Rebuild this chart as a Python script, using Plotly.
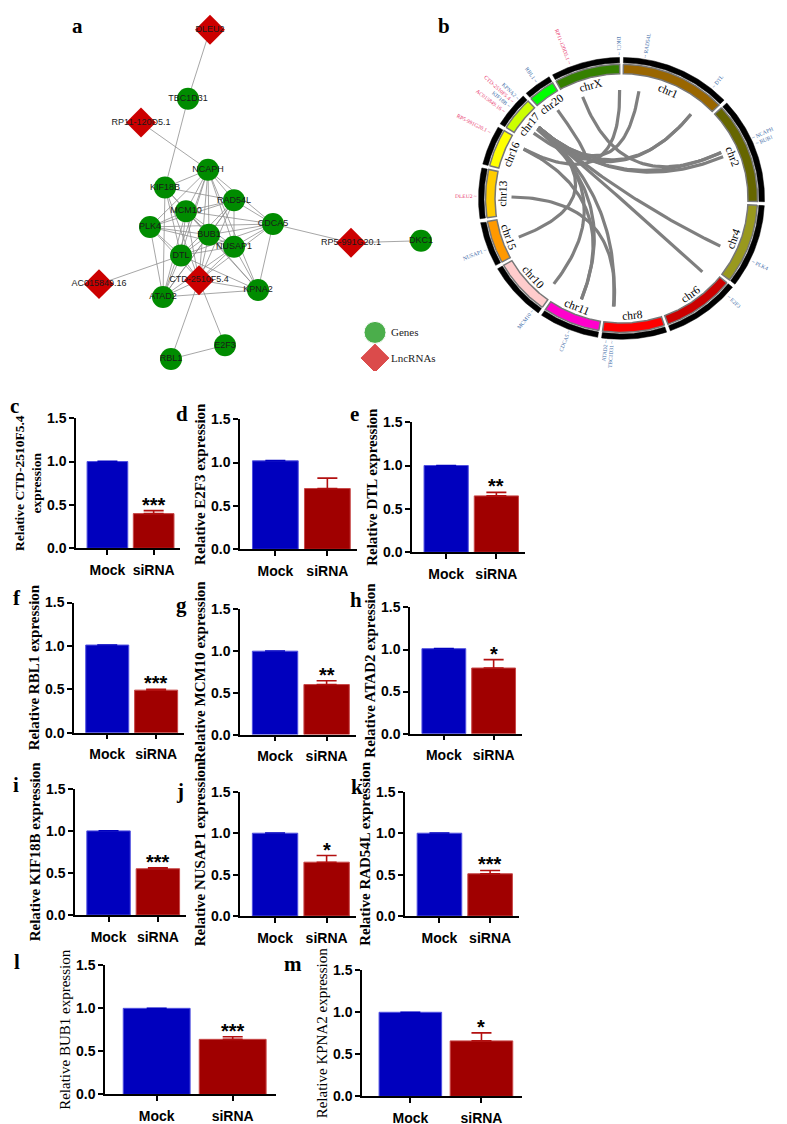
import numpy as np
import plotly.graph_objects as go

W, H = 787, 1124

# ---------------- panel a: co-expression network ----------------
net_nodes = ["DLEU2", "TBC1D31", "RP11-120D5.1", "NCAPH", "KIF18B", "RAD54L", "MCM10",
             "PLK4", "CDCA5", "BUB1", "NUSAP1", "DTL", "RP5-991G20.1", "DKC1",
             "AC015849.16", "CTD-2510F5.4", "ATAD2", "KPNA2", "E2F3", "RBL1"]
net_type = ["lnc", "gene", "lnc", "gene", "gene", "gene", "gene",
            "gene", "gene", "gene", "gene", "gene", "lnc", "gene",
            "lnc", "lnc", "gene", "gene", "gene", "gene"]
net_x = [202, 180, 133, 200, 157, 226, 178, 142, 265, 201, 226, 173, 343, 413,
         91, 191, 155, 250, 217, 163]
net_y = [14, 84, 108, 156, 174, 187, 198, 214, 211, 222, 234, 243, 230, 228,
         272, 268, 285, 278, 334, 348]
net_edges = [
    ("DLEU2", "TBC1D31"), ("TBC1D31", "KIF18B"), ("RP11-120D5.1", "NCAPH"),
    ("CDCA5", "RP5-991G20.1"), ("RP5-991G20.1", "DKC1"), ("AC015849.16", "DTL"),
    ("CTD-2510F5.4", "E2F3"), ("CTD-2510F5.4", "RBL1"), ("E2F3", "RBL1"),
    ("NCAPH", "KIF18B"), ("NCAPH", "RAD54L"), ("NCAPH", "MCM10"), ("NCAPH", "PLK4"),
    ("NCAPH", "CDCA5"), ("NCAPH", "BUB1"), ("NCAPH", "NUSAP1"), ("NCAPH", "DTL"),
    ("NCAPH", "ATAD2"), ("NCAPH", "KPNA2"), ("NCAPH", "CTD-2510F5.4"),
    ("KIF18B", "MCM10"), ("KIF18B", "BUB1"), ("KIF18B", "DTL"), ("KIF18B", "ATAD2"),
    ("KIF18B", "CTD-2510F5.4"), ("KIF18B", "RAD54L"),
    ("RAD54L", "MCM10"), ("RAD54L", "PLK4"), ("RAD54L", "BUB1"), ("RAD54L", "NUSAP1"),
    ("RAD54L", "DTL"), ("RAD54L", "CDCA5"), ("RAD54L", "ATAD2"), ("RAD54L", "CTD-2510F5.4"),
    ("MCM10", "PLK4"), ("MCM10", "CDCA5"), ("MCM10", "BUB1"), ("MCM10", "NUSAP1"),
    ("MCM10", "DTL"), ("MCM10", "ATAD2"), ("MCM10", "KPNA2"), ("MCM10", "CTD-2510F5.4"),
    ("PLK4", "BUB1"), ("PLK4", "NUSAP1"), ("PLK4", "DTL"), ("PLK4", "ATAD2"),
    ("PLK4", "CTD-2510F5.4"), ("PLK4", "CDCA5"),
    ("CDCA5", "BUB1"), ("CDCA5", "NUSAP1"), ("CDCA5", "DTL"), ("CDCA5", "KPNA2"),
    ("CDCA5", "CTD-2510F5.4"),
    ("BUB1", "NUSAP1"), ("BUB1", "DTL"), ("BUB1", "ATAD2"), ("BUB1", "KPNA2"),
    ("BUB1", "CTD-2510F5.4"),
    ("NUSAP1", "DTL"), ("NUSAP1", "ATAD2"), ("NUSAP1", "KPNA2"), ("NUSAP1", "CTD-2510F5.4"),
    ("DTL", "ATAD2"), ("DTL", "KPNA2"), ("DTL", "CTD-2510F5.4"),
    ("ATAD2", "CTD-2510F5.4"), ("ATAD2", "KPNA2"), ("KPNA2", "CTD-2510F5.4"),
]

# ---------------- panel b: circos ----------------
chroms = ["chr1", "chr2", "chr4", "chr6", "chr8", "chr11", "chr10", "chr15",
          "chr13", "chr16", "chr17", "chr20", "chrX"]
chrom_len = [249, 243, 191, 171, 146, 135, 135, 102, 115, 90, 81, 63, 155]
chrom_color = ["#996600", "#666600", "#99991E", "#CC0000", "#FF0000", "#FF00CC",
               "#FFCCCC", "#FF9900", "#FFCC00", "#FFFF00", "#CCFF00", "#00FF00", "#358000"]
loci = ["DKC1", "RAD54L", "DTL", "NCAPH", "BUB1", "PLK4", "E2F3", "TBC1D31", "ATAD2",
        "CDCA5", "MCM10", "NUSAP1", "DLEU2", "RP5-991G20.1", "AC015849.16", "KIF18B",
        "CTD-2510F5.4", "KPNA2", "RBL1", "RP11-120D5.1"]
locus_chr = ["chrX", "chr1", "chr1", "chr2", "chr2", "chr4", "chr6", "chr8", "chr8",
             "chr11", "chr10", "chr15", "chr13", "chr16", "chr17", "chr17",
             "chr17", "chr17", "chr20", "chrX"]
locus_mb = [154, 46, 212, 97, 111, 128, 20, 123, 125, 65, 13, 41, 50, 72, 28, 43, 50, 66, 35, 45]
locus_lnc = [False, False, False, False, False, False, False, False, False, False, False,
             False, True, True, True, False, True, False, False, True]
circos_links = [
    ("CTD-2510F5.4", "RAD54L"), ("CTD-2510F5.4", "DTL"), ("CTD-2510F5.4", "NCAPH"),
    ("CTD-2510F5.4", "BUB1"), ("CTD-2510F5.4", "PLK4"), ("CTD-2510F5.4", "E2F3"),
    ("CTD-2510F5.4", "ATAD2"), ("CTD-2510F5.4", "MCM10"), ("CTD-2510F5.4", "NUSAP1"),
    ("CTD-2510F5.4", "RBL1"), ("AC015849.16", "DTL"), ("RP5-991G20.1", "CDCA5"),
    ("RP5-991G20.1", "DKC1"), ("DLEU2", "TBC1D31"), ("RP11-120D5.1", "NCAPH"),
    ("KIF18B", "CDCA5"),
]

# ---------------- panels c-m: qPCR bars ----------------
panel_letters = ["c", "d", "e", "f", "g", "h", "i", "j", "k", "l", "m"]
target_genes = ["CTD-2510F5.4", "E2F3", "DTL", "RBL1", "MCM10", "ATAD2",
                "KIF18B", "NUSAP1", "RAD54L", "BUB1", "KPNA2"]
groups = ["Mock", "siRNA"]
mock_mean = [1.00, 1.02, 1.00, 1.01, 1.00, 1.01, 1.00, 1.00, 1.00, 1.00, 1.00]
mock_sem = [0.004, 0.004, 0.003, 0.003, 0.003, 0.003, 0.003, 0.003, 0.003, 0.003, 0.003]
sirna_mean = [0.40, 0.70, 0.65, 0.49, 0.60, 0.78, 0.55, 0.65, 0.51, 0.64, 0.66]
sirna_sem = [0.035, 0.12, 0.04, 0.01, 0.045, 0.10, 0.01, 0.08, 0.04, 0.03, 0.095]
signif = ["***", "", "**", "***", "**", "*", "***", "*", "***", "***", "*"]

# layout boxes in page pixels: y-axis x, right end x, y of 1.5, y of 0
boxes = [(68, 172, 408, 540), (232, 349, 409, 541), (404, 517, 412, 544),
         (66, 176, 595, 727), (232, 348, 602, 729), (402, 514, 600, 728),
         (67, 178, 784, 912), (232, 348, 787, 913), (397, 511, 787, 913),
         (97, 268, 963, 1094), (354, 514, 968, 1096)]
letter_pos = [(0, 396), (166, 404), (340, 404), (3, 590), (166, 598), (340, 592),
              (3, 780), (166, 786), (341, 782), (4, 960), (274, 962)]

SANS = "Liberation Sans, Arial"
SERIF = "Liberation Serif, Times New Roman"
BLUE, RED = "#0000BE", "#A00000"

fig = go.Figure()
ann = []

# ---- network ----
idx = {n: i for i, n in enumerate(net_nodes)}
ex, ey = [], []
for a, b in net_edges:
    ex += [net_x[idx[a]], net_x[idx[b]], None]
    ey += [net_y[idx[a]], net_y[idx[b]], None]
fig.add_trace(go.Scatter(x=ex, y=ey, mode="lines", line=dict(color="#8f8f8f", width=0.8),
                         hoverinfo="skip", xaxis="x", yaxis="y"))
for kind, sym, size, col in [("gene", "circle", 22, "#008C00"), ("lnc", "diamond", 23, "#CC0000")]:
    sel = [i for i, t in enumerate(net_type) if t == kind]
    fig.add_trace(go.Scatter(
        x=[net_x[i] for i in sel], y=[net_y[i] for i in sel], text=[net_nodes[i] for i in sel],
        mode="markers+text", textposition="middle center",
        textfont=dict(family=SANS, size=9, color="#1a1a1a"),
        marker=dict(symbol=sym, size=size, color=col, line=dict(width=0)),
        cliponaxis=False, hoverinfo="skip", xaxis="x", yaxis="y"))
# legend of panel a
fig.add_trace(go.Scatter(x=[367, 367], y=[321, 347], mode="markers",
                         marker=dict(symbol=["circle", "diamond"], size=[22, 23],
                                     color=["#008C00", "#CC0000"]),
                         hoverinfo="skip", xaxis="x", yaxis="y"))
for txt, yy in [("Genes", 321), ("LncRNAs", 347)]:
    ann.append(dict(x=381, y=yy, xref="x", yref="y", text=txt, showarrow=False, xanchor="left",
                    yanchor="middle", font=dict(family=SERIF, size=11, color="#222")))

# ---- circos ----
cx, cy = 613.5, 185.0
gap = 1.6
scale = (360 - gap * len(chroms)) / sum(chrom_len)
starts = {}
a0 = gap / 2
for c, L in zip(chroms, chrom_len):
    starts[c] = a0
    a0 += L * scale + gap


def pol(r, deg):
    t = np.radians(deg)
    return cx + r * np.sin(t), cy - r * np.cos(t)


for c, L, col in zip(chroms, chrom_len, chrom_color):
    s = starts[c]
    e = s + L * scale
    th = np.linspace(s, e, 80)
    for r0, r1, fc, lc, lw in [(126.5, 136, col, "#777777", 1.5), (137.5, 143, "black", "black", 0.5)]:
        xo, yo = pol(r1, th)
        xi, yi = pol(r0, th[::-1])
        fig.add_trace(go.Scatter(x=np.r_[xo, xi, xo[:1]], y=np.r_[yo, yi, yo[:1]], mode="lines",
                                 fill="toself", fillcolor=fc, line=dict(color=lc, width=lw),
                                 hoverinfo="skip", xaxis="x2", yaxis="y2"))
    mid = (s + e) / 2
    lx, ly = pol(119, mid)
    ang = mid - 180 if 90 < mid < 270 else (mid - 360 if mid >= 270 else mid)
    ann.append(dict(x=lx, y=ly, xref="x2", yref="y2", text=c, showarrow=False, textangle=ang,
                    xanchor="center", yanchor="middle",
                    font=dict(family=SERIF, size=11.5, color="black")))

loc_ang = {g: starts[c] + mb * scale for g, c, mb in zip(loci, locus_chr, locus_mb)}

# links: quadratic bezier through the centre
t = np.linspace(0, 1, 60)
lxs, lys = [], []
for a, b in circos_links:
    x0, y0 = pol(110, loc_ang[a])
    x2, y2 = pol(110, loc_ang[b])
    bx = (1 - t) ** 2 * x0 + 2 * (1 - t) * t * cx + t ** 2 * x2
    by = (1 - t) ** 2 * y0 + 2 * (1 - t) * t * cy + t ** 2 * y2
    lxs += list(bx) + [None]
    lys += list(by) + [None]
fig.add_trace(go.Scatter(x=lxs, y=lys, mode="lines", line=dict(color="#7f7f7f", width=3.2),
                         hoverinfo="skip", xaxis="x2", yaxis="y2"))

# gene labels outside the ring, spread so they do not overlap
order = sorted(range(len(loci)), key=lambda i: loc_ang[loci[i]])
placed = []
prev = -99
for i in order:
    a = max(loc_ang[loci[i]], prev + 2.4)
    placed.append((i, a))
    prev = a
for i, a in placed:
    right = a < 180
    txt = ("~ " + loci[i]) if right else (loci[i] + " ~")
    ln = len(txt) * 5.5 * 0.5
    px, py = pol(146 + ln / 2, a)
    ann.append(dict(x=px, y=py, xref="x2", yref="y2", text=txt, showarrow=False,
                    textangle=(a - 90) if right else (a - 270), xanchor="center", yanchor="middle",
                    font=dict(family=SERIF, size=5.5, color="#E8336A" if locus_lnc[i] else "#3D6BA8")))

# ---- bar panels ----
layout_axes = {}
for k in range(len(panel_letters)):
    n = k + 3
    xa, xb, y15, y0 = boxes[k]
    fig.add_trace(go.Bar(
        x=[groups[0]], y=[mock_mean[k]], width=0.88,
        marker=dict(color=BLUE, line=dict(color="#5050E0", width=1)),
        error_y=dict(type="data", array=[mock_sem[k]], arrayminus=[0], symmetric=False,
                     color=BLUE, thickness=1.2, width=10),
        hoverinfo="skip", xaxis=f"x{n}", yaxis=f"y{n}"))
    fig.add_trace(go.Bar(
        x=[groups[1]], y=[sirna_mean[k]], width=0.88,
        marker=dict(color=RED, line=dict(color="#C84848", width=1)),
        error_y=dict(type="data", array=[sirna_sem[k]], arrayminus=[0], symmetric=False,
                     color="#B31010", thickness=1.6, width=10),
        hoverinfo="skip", xaxis=f"x{n}", yaxis=f"y{n}"))
    if signif[k]:
        ann.append(dict(x=groups[1], y=sirna_mean[k] + sirna_sem[k], xref=f"x{n}", yref=f"y{n}",
                        text=signif[k], showarrow=False, yanchor="middle", yshift=6,
                        font=dict(family=SANS, size=20, color="black", weight="bold")))
    title = f"Relative {target_genes[k]} expression"
    tsize = 15
    if k == 0:
        title = f"Relative {target_genes[k]}<br>expression"
        tsize = 13.5
    bold = "normal" if k >= 9 else "bold"
    layout_axes[f"xaxis{n}"] = dict(
        domain=[xa / W, xb / W], anchor=f"y{n}", type="category", categoryorder="array",
        categoryarray=groups, range=[-0.68, 1.57], showline=True, linecolor="black",
        linewidth=1.5, ticks="outside", ticklen=5, tickwidth=1.5, tickcolor="black",
        tickfont=dict(family=SANS, size=14, color="black", weight="bold"),
        ticklabelstandoff=3, showgrid=False, zeroline=False, fixedrange=True)
    layout_axes[f"yaxis{n}"] = dict(
        domain=[1 - y0 / H, 1 - y15 / H], anchor=f"x{n}", range=[0, 1.5], tick0=0, dtick=0.5,
        tickformat=".1f", showline=True, linecolor="black", linewidth=1.5, ticks="outside",
        ticklen=5, tickwidth=1.5, tickcolor="black",
        tickfont=dict(family=SANS, size=14, color="black", weight="bold"),
        showgrid=False, zeroline=False, fixedrange=True,
        title=dict(text=title, standoff=2,
                   font=dict(family=SERIF, size=tsize, color="black", weight=bold)))
    lx, ly = letter_pos[k]
    ann.append(dict(x=lx / W, y=1 - ly / H, xref="paper", yref="paper", text=panel_letters[k],
                    showarrow=False, xanchor="left", yanchor="middle",
                    font=dict(family=SERIF, size=21, color="black", weight="bold")))

for txt, px, py in [("a", 62, 10), ("b", 428, 10)]:
    ann.append(dict(x=px / W, y=1 - py / H, xref="paper", yref="paper", text=txt,
                    showarrow=False, xanchor="left", yanchor="middle",
                    font=dict(family=SERIF, size=21, color="black", weight="bold")))

hidden = dict(showgrid=False, zeroline=False, showticklabels=False, showline=False,
              ticks="", fixedrange=True)
fig.update_layout(
    width=W, height=H, margin=dict(l=0, r=0, t=0, b=0),
    paper_bgcolor="white", plot_bgcolor="white", showlegend=False, barmode="overlay",
    xaxis=dict(domain=[0, 440 / W], range=[0, 440], **hidden),
    yaxis=dict(domain=[1 - 360 / H, 1], range=[360, 0], anchor="x", **hidden),
    xaxis2=dict(domain=[440 / W, 1], range=[440, 787], anchor="y2", **hidden),
    yaxis2=dict(domain=[1 - 345 / H, 1], range=[345, 0], anchor="x2", **hidden),
    annotations=ann,
    **layout_axes,
)

fig.write_html("out.html")
